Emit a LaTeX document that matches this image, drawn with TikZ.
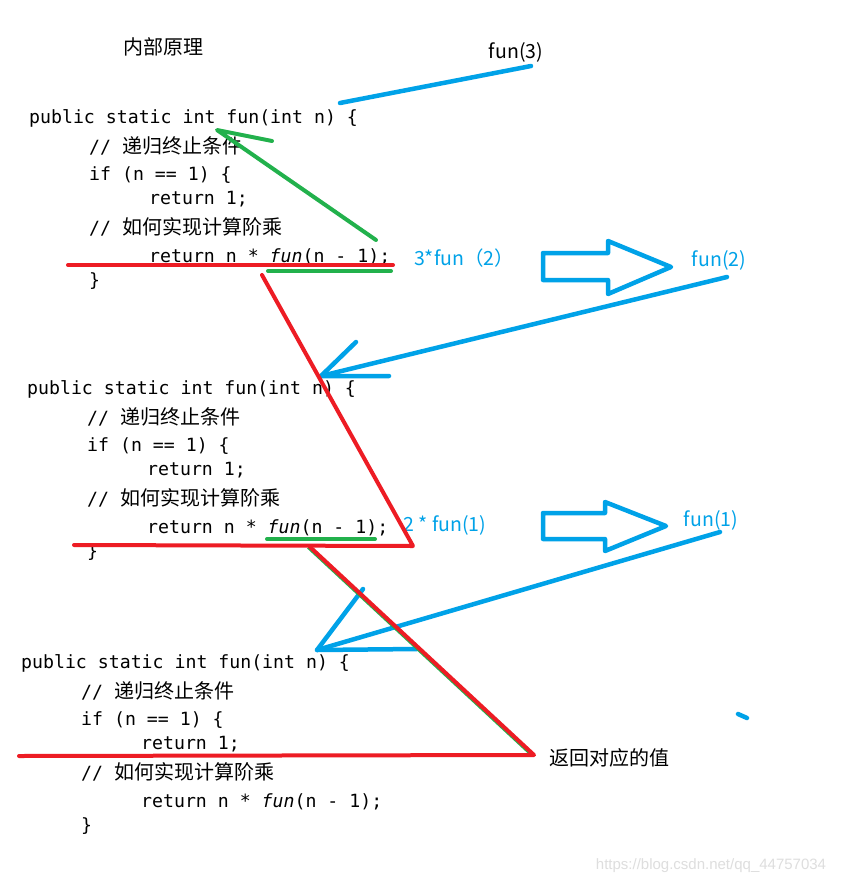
\documentclass[tikz,border=0pt]{standalone}
\usepackage{fontspec}
\setmonofont{DejaVu Sans Mono}
\newfontfamily\cjk{Noto Sans CJK SC}
\newfontfamily\wmfont{Liberation Sans}
\definecolor{pblue}{HTML}{00A2E8}
\definecolor{pred}{HTML}{ED1C24}
\definecolor{pgreen}{HTML}{22B14C}
\tikzset{
  code/.style={anchor=base west,inner sep=0pt,font=\ttfamily\fontsize{18.2}{20}\selectfont},
  lbl/.style={inner sep=0pt,font=\cjk\fontsize{19.5}{21}\selectfont},
  bluelbl/.style={lbl,text=pblue},
  bl/.style={draw=pblue,line width=4.5pt,line cap=round,line join=round},
  rd/.style={draw=pred,line width=4pt,line cap=round,line join=round},
  gr/.style={draw=pgreen,line width=4pt,line cap=round,line join=round},
}
\newcommand\cmt[1]{{\cjk\fontsize{20}{21}\selectfont #1}}
\newcommand\codeblk[3]{%
  \node[code] (#3a) at (#1, #2+5) {public static int fun(int n) \{};
  \node[code] (#3b) at (#1+60, #2+35) {// \cmt{递归终止条件}};
  \node[code] (#3c) at (#1+60, #2+62) {if (n == 1) \{};
  \node[code] (#3d) at (#1+120, #2+86) {return 1;};
  \node[code] (#3e) at (#1+60, #2+116) {// \cmt{如何实现计算阶乘}};
  \node[code] (#3f) at (#1+120, #2+144) {return n * \textit{fun}(n - 1);};
  \node[code] (#3g) at (#1+60, #2+168) {\}};
}
\begin{document}
\begin{tikzpicture}[x=1pt,y=-1pt]
\useasboundingbox[fill=white] (0,0) rectangle (841,887);
% title and labels
\node[lbl,font=\cjk\fontsize{20}{21}\selectfont] (title) at (163,47) {内部原理};
\node[lbl] (f3) at (516,52) {fun(3)};
\node[bluelbl] (l32) at (464,258) {3*fun（2）};
\node[bluelbl] (f2) at (719,260) {fun(2)};
\node[bluelbl] (l21) at (445,525) {2 * fun(1)};
\node[bluelbl] (f1) at (711,520) {fun(1)};
\node[lbl,font=\cjk\fontsize{20}{21}\selectfont,anchor=west] (ret) at (549,758) {返回对应的值};
\node[inner sep=0pt,font=\wmfont\fontsize{15}{17}\selectfont,text=black!13] (wm) at (711,866) {https://blog.csdn.net/qq\_44757034};
% code blocks
\codeblk{29}{118}{A}
\codeblk{27}{389}{B}
\codeblk{21}{663}{C}
% coordinates
\coordinate (b1s) at (340,103); \coordinate (b1e) at (531,66);
\coordinate (g1s) at (376,240); \coordinate (g1t) at (217,130); \coordinate (g1h) at (272,141);
\coordinate (u1s) at (268,271); \coordinate (u1e) at (391,271);
\coordinate (u2s) at (267,539); \coordinate (u2e) at (375,539);
\coordinate (r1s) at (68,265); \coordinate (r1e) at (393,265);
\coordinate (r2s) at (262,275); \coordinate (r2m) at (413,546); \coordinate (r2e) at (74,545);
\coordinate (r3s) at (310,547); \coordinate (r3m) at (534,755); \coordinate (r3e) at (19,756);
\coordinate (b2s) at (727,277); \coordinate (b2t) at (321,376); \coordinate (b2h1) at (356,342); \coordinate (b2h2) at (389,376);
\coordinate (b3s) at (720,532); \coordinate (b3t) at (317,650); \coordinate (b3h1) at (363,589); \coordinate (b3h2) at (417,649);
\coordinate (d1) at (738,714); \coordinate (d2) at (747,718);
% blue strokes
\draw[bl] (b1s) -- (b1e);
\draw[bl] (543,253) -- (608,253) -- (608,241) -- (671,267) -- (608,294) -- (608,280) -- (543,280) -- cycle;
\draw[bl] (543,513) -- (605,513) -- (605,502) -- (666,526) -- (605,551) -- (605,539) -- (543,539) -- cycle;
\draw[bl] (b2s) -- (b2t);
\draw[bl] (b2h1) -- (b2t) -- (b2h2);
\draw[bl] (b3s) -- (b3t);
\draw[bl] (b3h1) -- (b3t) -- (b3h2);
\draw[bl] (d1) -- (d2);
% green strokes
\draw[gr] (g1s) -- (g1t) -- (g1h);
\draw[gr] (u1s) -- (u1e);
\draw[gr] (u2s) -- (u2e);
\draw[draw=pgreen,line width=4pt] ([xshift=-1.5pt]r3s) -- ([xshift=-1.5pt]r3m);
% red strokes
\draw[rd] (r1s) -- (r1e);
\draw[rd] (r2s) -- (r2m) -- (r2e);
\draw[rd] (r3s) -- (r3m) -- (r3e);
\end{tikzpicture}
\end{document}
